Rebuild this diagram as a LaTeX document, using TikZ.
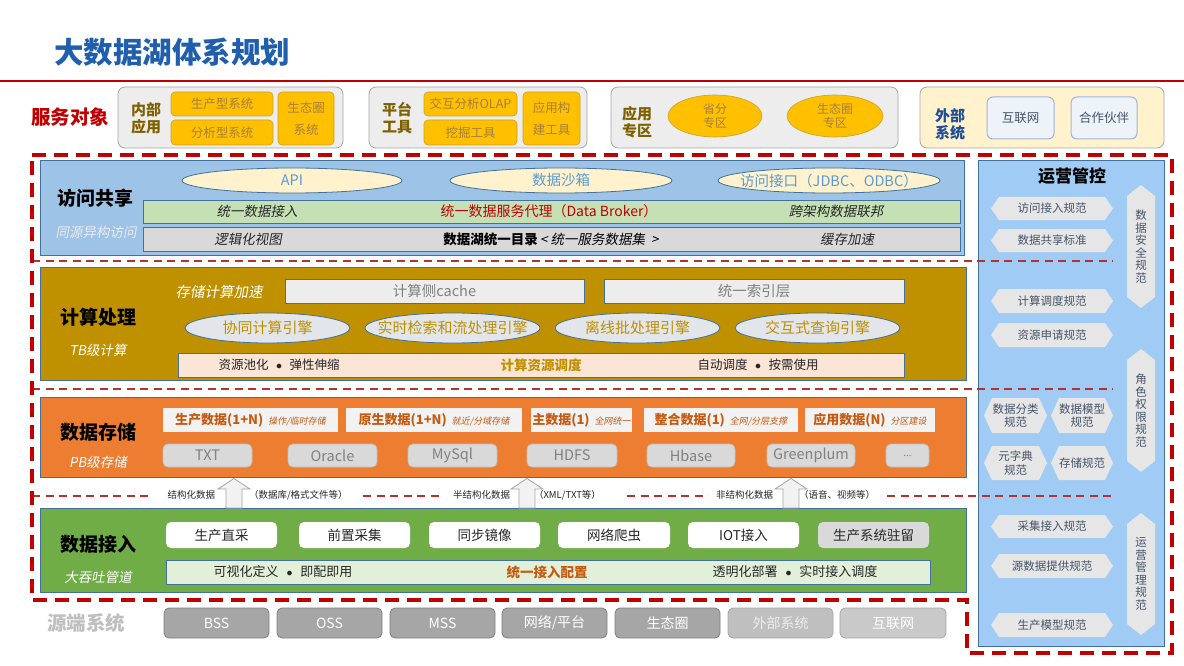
\documentclass[tikz,border=0pt]{standalone}
\usepackage{fontspec}
\setmainfont{Noto Sans CJK SC}[ItalicFont={Noto Sans CJK SC},ItalicFeatures={FakeSlant=0.18}]
\usetikzlibrary{shapes.geometric}
\definecolor{titleblue}{HTML}{1F5FAD}
\definecolor{dred}{HTML}{C00000}
\definecolor{thinred}{HTML}{B8312F}
\definecolor{topgray}{HTML}{EDEDED}
\definecolor{topborder}{HTML}{A6A6A6}
\definecolor{gold}{HTML}{FFC000}
\definecolor{goldline}{HTML}{C9A227}
\definecolor{goldtext}{HTML}{A67F3A}
\definecolor{tbrown}{HTML}{7F6000}
\definecolor{extfill}{HTML}{FFF2CC}
\definecolor{extblue}{HTML}{1F4E99}
\definecolor{extbox}{HTML}{EEF2F9}
\definecolor{extboxline}{HTML}{9DB4DC}
\definecolor{slate}{HTML}{44546A}
\definecolor{accblue}{HTML}{9DC3E6}
\definecolor{edge}{HTML}{41719C}
\definecolor{cream}{HTML}{FFF2CC}
\definecolor{lblue}{HTML}{5B9BD5}
\definecolor{lgreen}{HTML}{C5E0B4}
\definecolor{lgray}{HTML}{D9D9D9}
\definecolor{cgold}{HTML}{BF9000}
\definecolor{boxgray}{HTML}{EDEDED}
\definecolor{midgray}{HTML}{808080}
\definecolor{ellgray}{HTML}{E2E5EA}
\definecolor{peach}{HTML}{FBE5D6}
\definecolor{sorange}{HTML}{ED7D31}
\definecolor{dorange}{HTML}{C55A11}
\definecolor{ingreen}{HTML}{70AD47}
\definecolor{pgreen}{HTML}{E2F0D9}
\definecolor{srcgray}{HTML}{A6A6A6}
\definecolor{srcline}{HTML}{7F7F7F}
\definecolor{srclight}{HTML}{BFBFBF}
\definecolor{srclight2}{HTML}{C9C9C9}
\definecolor{panelblue}{HTML}{9FCBF5}
\definecolor{hexfill}{HTML}{E7E6E6}
\definecolor{srctitle}{HTML}{BFBFBF}
\definecolor{txtdark}{HTML}{262626}
\definecolor{arrfill}{HTML}{F2F2F2}
\definecolor{sboxfill}{HTML}{F2F2F2}

\newcommand{\rbox}[7]{%
 \pgfmathsetmacro{\rbCX}{(#3+#5)/2}%
 \pgfmathsetmacro{\rbCY}{(#4+#6)/2}%
 \pgfmathsetmacro{\rbW}{#5-#3}%
 \pgfmathsetmacro{\rbH}{#6-#4}%
 \node[base, minimum width=\rbW pt, minimum height=\rbH pt, #1] (#2) at (\rbCX,\rbCY) {#7};}
\newcommand{\hexH}[7]{%
 \pgfmathsetmacro{\hxm}{(#3+#5)/2}%
 \fill[hexfill] (#2,\hxm) -- (#2+#6,#3) -- (#4-#6,#3) -- (#4,\hxm) -- (#4-#6,#5) -- (#2+#6,#5) -- cycle;
 \node[hextxt] (#1) at ({(#2+#4)/2},\hxm) {#7};}
\newcommand{\hexV}[7]{%
 \pgfmathsetmacro{\hxm}{(#2+#4)/2}%
 \fill[hexfill] (\hxm,#3) -- (#4,#3+#6) -- (#4,#5-#6) -- (\hxm,#5) -- (#2,#5-#6) -- (#2,#3+#6) -- cycle;
 \node[vtxt] (#1) at (\hxm,{(#3+#5)/2}) {#7};}
\newcommand{\uparr}[2]{%
 \filldraw[fill=arrfill, draw=srcgray, line width=0.8pt] (#2-8,508) -- (#2-8,489) -- (#2-16,489) -- (#2,478.5) -- (#2+16,489) -- (#2+8,489) -- (#2+8,508) -- cycle;
 \coordinate (#1) at (#2,493);}
\newcommand{\bul}{\hspace{0.6em}$\bullet$\hspace{0.6em}}
\newcommand{\sd}[2]{{\bfseries\fontsize{13}{15}\selectfont #1}\hspace{5pt}{\itshape\fontsize{9}{11}\selectfont #2}}
\newcommand{\zw}[1]{\makebox[0pt]{#1}}

\begin{document}
\begin{tikzpicture}[x=1pt,y=-1pt,
 base/.style={inner sep=0pt, outer sep=0pt, align=center},
 topbox/.style={fill=topgray, draw=topborder, line width=0.8pt, rounded corners=7pt},
 ybox/.style={fill=gold, draw=goldline, line width=0.6pt, rounded corners=4pt, text=goldtext, font=\fontsize{12.5}{14}\selectfont},
 ybox2/.style={ybox, font=\fontsize{12.5}{22}\selectfont},
 grouplbl/.style={base, font=\fontsize{15}{17}\selectfont\bfseries, text=tbrown},
 extb/.style={fill=extbox, draw=extboxline, line width=1pt, rounded corners=6pt, text=slate, font=\fontsize{12.5}{14}\selectfont},
 layer/.style={draw=edge, line width=0.8pt},
 ltitle/.style={base, font=\fontsize{19}{21}\selectfont\bfseries, text=black},
 lsub/.style={base, font=\fontsize{13.5}{15}\selectfont\itshape, text=white},
 ell1/.style={base, ellipse, fill=cream, draw=edge, line width=0.8pt, text=lblue, font=\fontsize{14.5}{16}\selectfont},
 ell2/.style={base, ellipse, fill=ellgray, draw=edge, line width=0.8pt, text=cgold, font=\fontsize{15}{17}\selectfont},
 itx/.style={base, font=\fontsize{13.5}{15}\selectfont\itshape, text=txtdark},
 ntx/.style={base, font=\fontsize{12.5}{14}\selectfont, text=txtdark},
 cbox/.style={layer, fill=boxgray, text=midgray, font=\fontsize{14.5}{16}\selectfont},
 sbox/.style={fill=sboxfill, text=dorange},
 gbox/.style={fill=lgray, draw=srclight, line width=0.8pt, rounded corners=5pt, text=midgray, font=\fontsize{14.5}{16}\selectfont},
 wbox/.style={fill=white, rounded corners=5pt, text=txtdark, font=\fontsize{13.5}{15}\selectfont},
 srcbox/.style={fill=srcgray, draw=srcline, line width=0.8pt, rounded corners=5pt, text=white, font=\fontsize{14}{16}\selectfont},
 hextxt/.style={base, text=slate, font=\fontsize{11.5}{13.5}\selectfont},
 vtxt/.style={base, text=slate, font=\fontsize{11.5}{12.5}\selectfont},
 lbl/.style={base, text=txtdark, font=\fontsize{9.5}{11}\selectfont},
 thickdash/.style={draw=dred, line width=3.8pt, dash pattern=on 14pt off 8pt},
 thindash/.style={draw=thinred, line width=1.8pt, dash pattern=on 8pt off 5.5pt}
]
\useasboundingbox (0,0) rectangle (1184,666);
\fill[white] (0,0) rectangle (1184,666);

% title
\node[base, anchor=west, font=\fontsize{29.5}{32}\selectfont\bfseries, text=titleblue] (title) at (54,52) {大数据湖体系规划};
\draw[dred, line width=2.4pt] (0,81) -- (1184,81);

% service objects row
\node[base, font=\fontsize{19.5}{21}\selectfont\bfseries, text=dred] (svc) at (70,117) {服务对象};

\rbox{topbox}{b1}{118}{87}{343}{148}{}
\node[grouplbl] (b1t) at (146,118) {内部\\应用};
\rbox{ybox}{b1a}{171}{92}{273}{116}{生产型系统}
\rbox{ybox}{b1b}{171}{120}{273}{145}{分析型系统}
\rbox{ybox2}{b1c}{278}{92}{334}{145}{生态圈\\系统}

\rbox{topbox}{b2}{369}{87}{587}{148}{}
\node[grouplbl] (b2t) at (397,118) {平台\\工具};
\rbox{ybox}{b2a}{424}{92}{517}{116}{交互分析OLAP}
\rbox{ybox}{b2b}{424}{120}{517}{145}{挖掘工具}
\rbox{ybox2}{b2c}{523}{92}{580}{145}{应用构\\建工具}

\rbox{topbox}{b3}{611}{87}{898}{148}{}
\node[grouplbl] (b3t) at (637,122) {应用\\专区};
\node[base, ellipse, fill=gold, draw=goldline, line width=0.6pt, minimum width=94pt, minimum height=42pt, text=goldtext, font=\fontsize{12}{14}\selectfont] (b3a) at (715,116) {省分\\专区};
\node[base, ellipse, fill=gold, draw=goldline, line width=0.6pt, minimum width=96pt, minimum height=42pt, text=goldtext, font=\fontsize{12}{14}\selectfont] (b3b) at (835,116) {生态圈\\专区};

\rbox{topbox, fill=extfill}{b4}{920}{87}{1164}{148}{}
\node[grouplbl, text=extblue] (b4t) at (950,124) {外部\\系统};
\rbox{extb}{b4a}{987}{97}{1054}{139}{互联网}
\rbox{extb}{b4b}{1071}{97}{1137}{139}{合作伙伴}

% layer 1: access
\rbox{layer, fill=accblue}{L1}{40}{160}{964}{255}{}
\node[ltitle] (L1t) at (95,198) {访问共享};
\node[lsub, text=white!92!black] (L1s) at (96,232) {同源异构访问};
\node[ell1, minimum width=220pt, minimum height=25pt] (api) at (292,180.5) {\zw{API}};
\node[ell1, minimum width=222pt, minimum height=25pt] (sandbox) at (561,180.5) {\zw{数据沙箱}};
\node[ell1, minimum width=222pt, minimum height=25pt] (jdbc) at (829,180.5) {\zw{访问接口（JDBC、ODBC）}};
\rbox{layer, fill=lgreen}{gbar}{143}{200}{960}{223}{}
\node[itx] (g1) at (257,211.5) {统一数据接入};
\node[base, text=dred, font=\fontsize{14}{16}\selectfont] (g2) at (549,211.5) {统一数据服务代理（Data Broker）};
\node[itx] (g3) at (836,211.5) {跨架构数据联邦};
\rbox{layer, fill=lgray}{ybar}{143}{227}{960}{251}{}
\node[itx] (y1) at (248,239) {逻辑化视图};
\node[base, text=black, font=\fontsize{13.5}{15}\selectfont] (y2) at (551,239) {\textbf{数据湖统一目录}\,{\itshape <\ 统一服务数据集\ \ >}};
\node[itx] (y3) at (847,239) {缓存加速};

% layer 2: compute
\rbox{layer, fill=cgold}{L2}{40}{267}{966}{380}{}
\node[ltitle] (L2t) at (98,317) {计算处理};
\node[lsub] (L2s) at (98,350) {TB级计算};
\node[lsub, font=\fontsize{14.5}{16}\selectfont\itshape] (c0) at (219,292) {存储计算加速};
\rbox{cbox}{c1}{285}{279}{584}{303}{计算侧cache}
\rbox{cbox}{c2}{604}{279}{904}{303}{统一索引层}
\node[ell2, minimum width=165pt, minimum height=30pt] (e1) at (267.5,328) {\zw{协同计算引擎}};
\node[ell2, minimum width=175pt, minimum height=30pt] (e2) at (452.5,328) {\zw{实时检索和流处理引擎}};
\node[ell2, minimum width=165pt, minimum height=30pt] (e3) at (637.5,328) {\zw{离线批处理引擎}};
\node[ell2, minimum width=165pt, minimum height=30pt] (e4) at (817.5,328) {\zw{交互式查询引擎}};
\rbox{layer, fill=peach}{pbar}{178}{353}{904}{377}{}
\node[ntx] (p1) at (279,365) {资源池化\bul 弹性伸缩};
\node[base, text=cgold, font=\fontsize{13.5}{15}\selectfont\bfseries] (p2) at (541,365) {计算资源调度};
\node[ntx] (p3) at (758,365) {自动调度\bul 按需使用};

% layer 3: storage
\rbox{layer, fill=sorange}{L3}{40}{397}{966}{477}{}
\node[ltitle] (L3t) at (98,432) {数据存储};
\node[lsub] (L3s) at (98,462) {PB级存储};
\rbox{sbox}{s1}{163}{408}{338}{432}{\sd{生产数据(1+N)}{操作/临时存储}}
\rbox{sbox}{s2}{346}{408}{522}{432}{\sd{原生数据(1+N)}{就近/分域存储}}
\rbox{sbox}{s3}{531}{408}{632}{432}{\sd{主数据(1)}{全网统一}}
\rbox{sbox}{s4}{644}{408}{798}{432}{\sd{整合数据(1)}{全网/分层支撑}}
\rbox{sbox}{s5}{805}{408}{935}{432}{\sd{应用数据(N)}{分区建设}}
\rbox{gbox}{t1}{163}{444}{252}{467}{TXT}
\rbox{gbox}{t2}{288}{444}{377}{467}{Oracle}
\rbox{gbox}{t3}{408}{444}{497}{467}{MySql}
\rbox{gbox}{t4}{527}{444}{617}{467}{HDFS}
\rbox{gbox}{t5}{647}{444}{735}{467}{Hbase}
\rbox{gbox}{t6}{767}{444}{855}{467}{Greenplum}
\rbox{gbox, font=\fontsize{10}{12}\selectfont}{t7}{886}{444}{929}{467}{...}

% layer 4: ingest
\rbox{layer, fill=ingreen}{L4}{40}{508}{966}{592}{}
\node[ltitle] (L4t) at (98,544) {数据接入};
\node[lsub] (L4s) at (98,577) {大吞吐管道};
\rbox{wbox}{w1}{166}{522}{277}{548}{生产直采}
\rbox{wbox}{w2}{299}{522}{410}{548}{前置采集}
\rbox{wbox}{w3}{429}{522}{540}{548}{同步镜像}
\rbox{wbox}{w4}{558}{522}{670}{548}{网络爬虫}
\rbox{wbox}{w5}{688}{522}{799}{548}{IOT接入}
\rbox{wbox, fill=lgray}{w6}{818}{522}{929}{548}{生产系统驻留}
\rbox{layer, fill=pgreen}{ibar}{166}{560}{930}{584}{}
\node[ntx, font=\fontsize{13}{15}\selectfont] (i1) at (283,572) {可视化定义\bul 即配即用};
\node[base, text=dorange, font=\fontsize{13.5}{15}\selectfont\bfseries] (i2) at (547,572) {统一接入配置};
\node[ntx, font=\fontsize{13}{15}\selectfont] (i3) at (795,572) {透明化部署\bul 实时接入调度};

% arrows between ingest and storage
\uparr{a1}{234}
\uparr{a2}{527}
\uparr{a3}{791}
\node[lbl, anchor=east] (l1) at (215,495) {结构化数据};
\node[lbl, anchor=west] (r1) at (249,495) {（数据库/格式文件等）};
\node[lbl, anchor=east] (l2) at (510,495) {半结构化数据};
\node[lbl, anchor=west] (r2) at (534,495) {（XML/TXT等）};
\node[lbl, anchor=east] (l3) at (773,495) {非结构化数据};
\node[lbl, anchor=west] (r3) at (799,495) {（语音、视频等）};

% source systems
\node[base, font=\fontsize{19.5}{21}\selectfont\bfseries, text=srctitle] (src) at (86,623) {源端系统};
\rbox{srcbox}{q1}{164}{608}{269}{638}{BSS}
\rbox{srcbox}{q2}{277}{608}{382}{638}{OSS}
\rbox{srcbox}{q3}{390}{608}{495}{638}{MSS}
\rbox{srcbox}{q4}{502}{608}{607}{638}{网络/平台}
\rbox{srcbox}{q5}{615}{608}{720}{638}{生态圈}
\rbox{srcbox, fill=srclight, draw=srcgray, text=white!93!black}{q6}{728}{608}{833}{638}{外部系统}
\rbox{srcbox, fill=srclight2, draw=srcgray}{q7}{840}{608}{946}{638}{互联网}

% right panel
\rbox{layer, fill=panelblue}{R}{978}{160}{1164}{646}{}
\node[base, font=\fontsize{17}{19}\selectfont\bfseries, text=black] (Rt) at (1072,176) {运营管控};
\hexH{h1}{991}{197}{1113}{220}{8}{访问接入规范}
\hexH{h2}{991}{229}{1113}{252}{8}{数据共享标准}
\hexH{h3}{991}{289}{1113}{313}{8}{计算调度规范}
\hexH{h4}{991}{323}{1113}{347}{8}{资源申请规范}
\hexH{h5}{984}{398}{1047}{433}{8}{数据分类\\规范}
\hexH{h6}{1051}{398}{1113}{433}{8}{数据模型\\规范}
\hexH{h7}{984}{446}{1047}{480}{8}{元字典\\规范}
\hexH{h8}{1051}{446}{1113}{480}{8}{存储规范}
\hexH{h9}{991}{515}{1113}{538}{8}{采集接入规范}
\hexH{h10}{991}{554}{1113}{578}{8}{源数据提供规范}
\hexH{h11}{991}{613}{1113}{637}{8}{生产模型规范}
\hexV{v1}{1127}{185}{1155}{308}{11}{数\\据\\安\\全\\规\\范}
\hexV{v2}{1127}{349}{1155}{472}{11}{角\\色\\权\\限\\规\\范}
\hexV{v3}{1127}{513}{1155}{635}{11}{运\\营\\管\\理\\规\\范}

% thin separators
\draw[thindash] (32,261) -- (1113,261);
\draw[thindash] (32,389) -- (1113,389);
\draw[thindash] (32,496) -- (152,496);
\draw[thindash] (363,496) -- (440,496);
\draw[thindash] (627,496) -- (708,496);
\draw[thindash] (887,496) -- (1113,496);

% thick boundary
\draw[thickdash] (32,155) -- (1172,155) -- (1172,653) -- (967,653) -- (967,600) -- (32,600) -- cycle;
\end{tikzpicture}
\end{document}
